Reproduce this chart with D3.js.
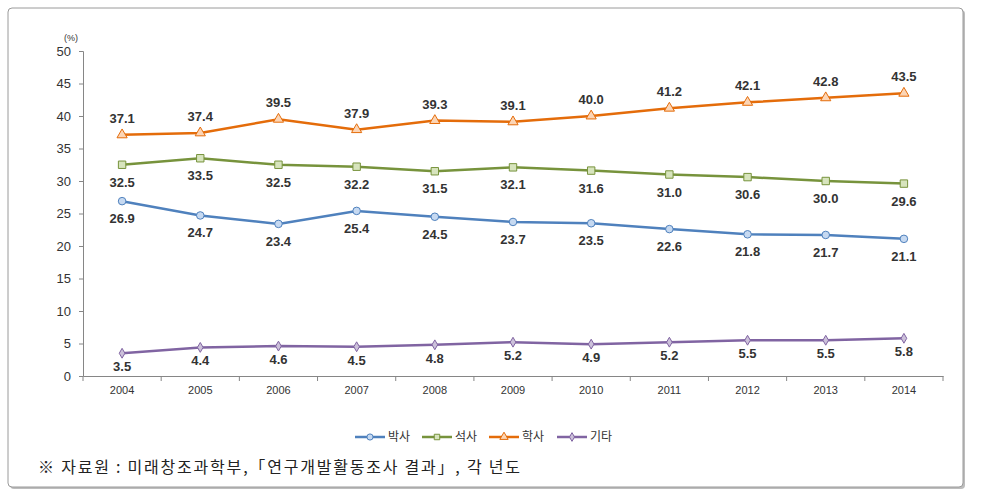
<!DOCTYPE html>
<html><head><meta charset="utf-8">
<script src="https://cdn.jsdelivr.net/npm/d3@7"></script>
<style>
body{margin:0;background:#fff;font-family:"Noto Sans CJK KR","Noto Sans",sans-serif;}
</style></head><body>
<svg id="c" width="985" height="498"></svg>
<script>
const years = ["2004","2005","2006","2007","2008","2009","2010","2011","2012","2013","2014"];
const phd = [26.9,24.7,23.4,25.4,24.5,23.7,23.5,22.6,21.8,21.7,21.1];
const master = [32.5,33.5,32.5,32.2,31.5,32.1,31.6,31.0,30.6,30.0,29.6];
const bachelor = [37.1,37.4,39.5,37.9,39.3,39.1,40.0,41.2,42.1,42.8,43.5];
const other = [3.5,4.4,4.6,4.5,4.8,5.2,4.9,5.2,5.5,5.5,5.8];
const seriesNames = ["박사","석사","학사","기타"];
const yTicks = [0,5,10,15,20,25,30,35,40,45,50];

const series = [
  {name:seriesNames[0], values:phd, line:"#4F81BD", fill:"#C6D9F1", marker:"circle", lab:"below"},
  {name:seriesNames[1], values:master, line:"#77933C", fill:"#D7E4BD", marker:"square", lab:"below"},
  {name:seriesNames[2], values:bachelor, line:"#E46C0A", fill:"#FCD5B5", marker:"triangle", lab:"above"},
  {name:seriesNames[3], values:other, line:"#8064A2", fill:"#CCC1DA", marker:"diamond", lab:"below"}
];

const svg = d3.select("#c");
svg.append("rect").attr("x",10).attr("y",10).attr("width",955).attr("height",479).attr("rx",4).attr("fill","#bdbdbd");
svg.append("rect").attr("x",8).attr("y",8).attr("width",955).attr("height",479).attr("rx",4).attr("fill","#fff").attr("stroke","#9a9a9a").attr("stroke-width",1);

const L=83, R=943, T=51, B=376;
const x = d3.scaleBand().domain(years).range([L,R]);
const y = d3.scaleLinear().domain([0,50]).range([B,T]);
const cx = d => x(d)+x.bandwidth()/2;

const ya = svg.append("g").attr("transform",`translate(${L},0)`)
  .call(d3.axisLeft(y).tickValues(yTicks).tickSize(4).tickPadding(8));
ya.select(".domain").attr("stroke","#868686");
ya.selectAll(".tick line").attr("stroke","#868686");
ya.selectAll("text").attr("fill","#333").style("font-family","Liberation Sans, Arial, sans-serif").style("font-size","13px");

const xa = svg.append("g").attr("transform",`translate(0,${B})`)
  .call(d3.axisBottom(x).tickSize(0).tickPadding(10).tickSizeOuter(0));
xa.select(".domain").attr("stroke","#868686");
xa.selectAll("text").attr("fill","#333").style("font-family","Liberation Sans, Arial, sans-serif").style("font-size","11px");
svg.append("g").selectAll("line").data(years.concat(["end"])).join("line")
  .attr("x1",(d,i)=> i<years.length ? x(d) : R).attr("x2",(d,i)=> i<years.length ? x(d) : R)
  .attr("y1",B).attr("y2",B+5).attr("stroke","#868686");

svg.append("text").attr("x",L-12).attr("y",T-10).attr("text-anchor","middle")
  .attr("fill","#333").style("font-size","9px").style("font-family","Liberation Sans, Arial, sans-serif").text("(%)");

const line = d3.line().x((d,i)=>cx(years[i])).y(d=>y(d));
const sym = {circle:d3.symbolCircle, square:d3.symbolSquare, triangle:d3.symbolTriangle, diamond:d3.symbolDiamond};
const symSize = {circle:45, square:55, triangle:45, diamond:28};

series.forEach(s=>{
  svg.append("path").datum(s.values).attr("d",line).attr("fill","none")
    .attr("stroke",s.line).attr("stroke-width",2.5);
  svg.append("g").selectAll("path").data(s.values).join("path")
    .attr("transform",(d,i)=>`translate(${cx(years[i])},${y(d)})`)
    .attr("d",d3.symbol().type(sym[s.marker]).size(symSize[s.marker]))
    .attr("fill",s.fill).attr("stroke",s.line).attr("stroke-width",1);
  svg.append("g").selectAll("text").data(s.values).join("text")
    .attr("x",(d,i)=>cx(years[i]))
    .attr("y",d=> s.lab==="above" ? y(d)-12 : (s.name==="기타" ? y(d)+18 : y(d)+22))
    .attr("text-anchor","middle").attr("fill","#333")
    .style("font-family","Liberation Sans, Arial, sans-serif").style("font-size","13px").style("font-weight","bold")
    .text(d=>d.toFixed(1));
});

const legX = [355,422,489,557];
series.forEach((s,i)=>{
  const g = svg.append("g").attr("transform",`translate(${legX[i]},437)`);
  g.append("line").attr("x1",0).attr("x2",30).attr("stroke",s.line).attr("stroke-width",2.5);
  g.append("path").attr("transform","translate(15,0)").attr("d",d3.symbol().type(sym[s.marker]).size(s.marker==="diamond"?22:30))
    .attr("fill",s.fill).attr("stroke",s.line).attr("stroke-width",1);
  g.append("text").attr("x",33).attr("y",4).attr("fill","#333").style("font-size","12px").text(s.name);
});

svg.append("text").attr("x",38).attr("y",473).attr("fill","#222").style("font-size","16px")
  .attr("textLength",482).attr("lengthAdjust","spacing")
  .text("※ 자료원 : 미래창조과학부,「연구개발활동조사 결과」, 각 년도");
</script>
</body></html>
